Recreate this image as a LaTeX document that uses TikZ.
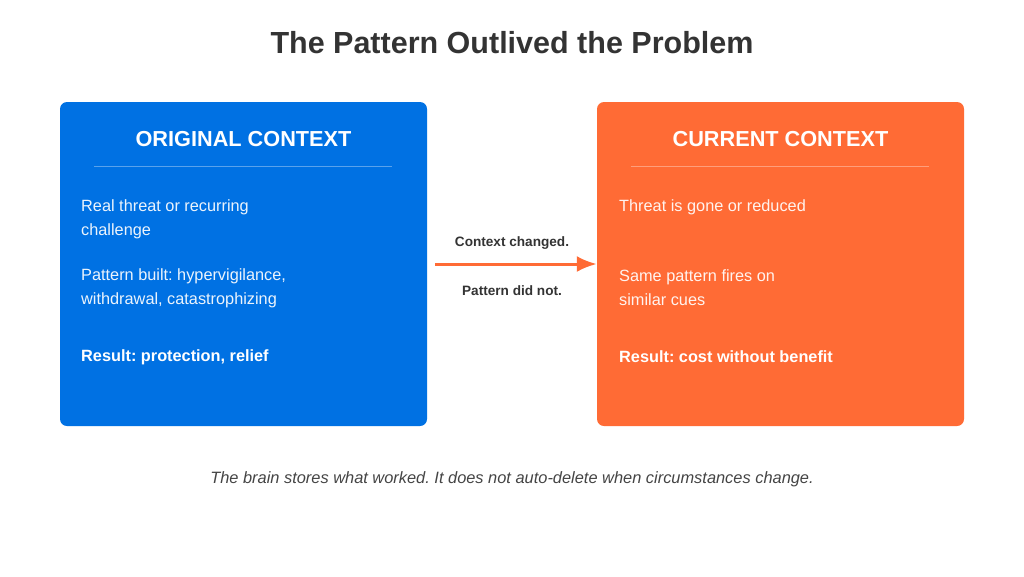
\documentclass[tikz,border=0pt]{standalone}
\usepackage{fontspec}
\setmainfont{Liberation Sans}
\usetikzlibrary{arrows.meta}
\frenchspacing
\definecolor{ctxblue}{HTML}{0071E3}
\definecolor{ctxorange}{HTML}{FF6B35}
\definecolor{darktext}{HTML}{333333}
\definecolor{notetext}{HTML}{444444}
\tikzset{
  ctxbox/.style={minimum width=367pt,minimum height=324pt,rounded corners=7pt,inner sep=0pt},
  heading/.style={text=white,font=\fontsize{21.7}{25}\selectfont\bfseries},
  bodytext/.style={anchor=west,align=left,inner sep=0pt,text=white,text opacity=0.92,font=\fontsize{16.3}{24}\selectfont},
  resulttext/.style={bodytext,text opacity=1,font=\fontsize{16.3}{24}\selectfont\bfseries},
  arrowlabel/.style={text=darktext,font=\fontsize{13.6}{16}\selectfont\bfseries}
}
\begin{document}
\begin{tikzpicture}[x=1pt,y=-1pt]
  \useasboundingbox (0,0) rectangle (1024,576);
  \node[text=darktext,font=\fontsize{30.5}{34}\selectfont\bfseries] (title) at (512,43) {The Pattern Outlived the Problem};

  \node[ctxbox,fill=ctxblue] (left) at (243.5,264) {};
  \node[heading] (lefthead) at (243.5,139) {ORIGINAL CONTEXT};
  \draw[white,opacity=0.35] (94,166) -- (392,166);
  \node[bodytext] (leftone) at (81,219) {Real threat or recurring\\challenge};
  \node[bodytext] (lefttwo) at (81,288) {Pattern built: hypervigilance,\\withdrawal, catastrophizing};
  \node[resulttext] (leftres) at (81,357) {Result: protection, relief};

  \node[ctxbox,fill=ctxorange] (right) at (780.5,264) {};
  \node[heading] (righthead) at (780.5,139) {CURRENT CONTEXT};
  \draw[white,opacity=0.35] (631,166) -- (929,166);
  \node[bodytext] (rightone) at (619,207) {Threat is gone or reduced};
  \node[bodytext] (righttwo) at (619,288) {Same pattern fires on\\similar cues};
  \node[resulttext] (rightres) at (619,357) {Result: cost without benefit};

  \draw[-{Latex[length=20pt,width=16pt]},line width=3pt,ctxorange] ([xshift=8pt]left.east) -- (right.west);
  \node[arrowlabel] (changed) at (512,243) {Context changed.};
  \node[arrowlabel] (notchanged) at (512,291) {Pattern did not.};

  \node[text=notetext,font=\fontsize{16.4}{19}\selectfont\itshape] (note) at (512,479) {The brain stores what worked. It does not auto-delete when circumstances change.};
\end{tikzpicture}
\end{document}
